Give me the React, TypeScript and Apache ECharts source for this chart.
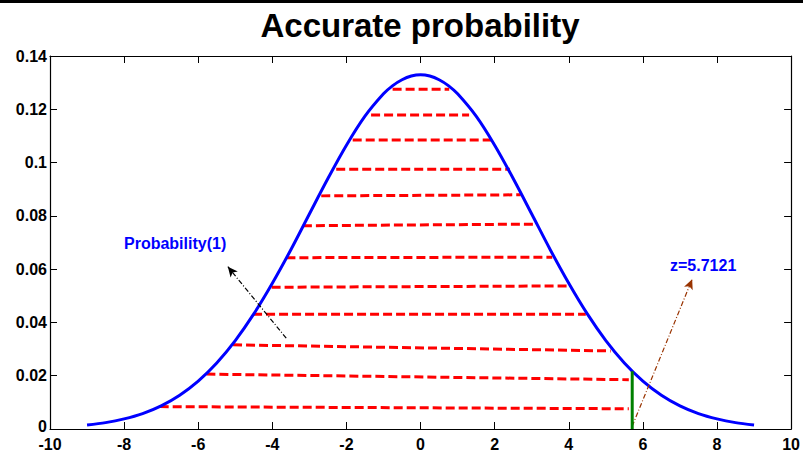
import React, { useEffect, useRef } from "react";
import * as echarts from "echarts";

// Density curve
const curveX = [-9, -8.5, -8, -7.5, -7, -6.5, -6, -5.5, -5, -4.5, -4, -3.5, -3, -2.5, -2, -1.5, -1, -0.75, -0.5, -0.25, 0, 0.25, 0.5, 0.75, 1, 1.5, 2, 2.5, 3, 3.5, 4, 4.5, 5, 5.5, 6, 6.5, 7, 7.5, 8, 8.5, 9];
const curveY = [0.0015, 0.0024, 0.0038, 0.0058, 0.0087, 0.0127, 0.018, 0.0248, 0.0332, 0.0432, 0.0547, 0.0673, 0.0807, 0.094, 0.1065, 0.1174, 0.1258, 0.1289, 0.1311, 0.1325, 0.133, 0.1325, 0.1311, 0.1289, 0.1258, 0.1174, 0.1065, 0.094, 0.0807, 0.0673, 0.0547, 0.0432, 0.0332, 0.0248, 0.018, 0.0127, 0.0087, 0.0058, 0.0038, 0.0024, 0.0015];

// Red dashed segments (start and end points)
const dashStartX = [-7.04, -5.78, -5.06, -4.52, -4.02, -3.62, -3.175, -2.68, -2.276, -1.831, -1.335, -0.754];
const dashStartY = [0.0084, 0.0206, 0.0316, 0.0431, 0.0532, 0.0643, 0.0763, 0.0875, 0.0975, 0.1085, 0.1179, 0.1275];
const dashEndX = [5.62, 5.62, 5.13, 4.46, 4.05, 3.555, 3.1, 2.704, 2.408, 1.955, 1.31, 0.773];
const dashEndY = [0.0076, 0.0185, 0.0293, 0.0431, 0.0537, 0.0645, 0.0769, 0.0879, 0.0975, 0.1085, 0.1179, 0.1275];

// z marker
const zValue = 5.7121;
const zHeight = 0.0217;

// Annotation arrows: [fromX, fromY, toX, toY]
const arrowProb = [-3.625, 0.0341, -5.2, 0.0609];
const arrowZ = [5.71, 0.001, 7.33, 0.0562];

const xTicks = { min: -10, max: 10, interval: 2 };
const yTicks = { min: 0, max: 0.14, interval: 0.02 };

const FONT = "Liberation Sans, Arial, Helvetica, sans-serif";

export default function App() {
  const ref = useRef<HTMLDivElement>(null);
  useEffect(() => {
    if (!ref.current) return;
    const chart = echarts.init(ref.current, undefined, { renderer: "svg" });

    const axisCommon = {
      type: "value" as const,
      splitLine: { show: false },
      axisLine: { show: true, onZero: false, lineStyle: { color: "#000", width: 1.2 } },
      axisTick: { show: true, inside: true, length: 7, lineStyle: { color: "#000", width: 1 } },
    };

    const labelFont = { color: "#000", fontWeight: "bold", fontSize: 16, fontFamily: FONT };

    const dashSeries = dashStartX.map((sx, i) => ({
      type: "line",
      xAxisIndex: 0,
      yAxisIndex: 0,
      data: [
        [sx, dashStartY[i]],
        [dashEndX[i], dashEndY[i]],
      ],
      symbol: "none",
      silent: true,
      lineStyle: { color: "#ff0000", width: 3, type: [9, 4] },
      z: 3,
    }));

    const arrowSeries = (a: number[], color: string) => ({
      type: "line",
      data: [],
      markLine: {
        silent: true,
        symbol: ["none", "arrow"],
        symbolSize: [7, 10],
        label: { show: false },
        lineStyle: { color, width: 1.2, type: [5, 2, 1, 2] },
        data: [[{ coord: [a[0], a[1]] }, { coord: [a[2], a[3]] }]],
      },
    });

    chart.setOption({
      animation: false,
      grid: { left: 50, right: 10, top: 56, bottom: 24, containLabel: false },
      xAxis: [
        {
          ...axisCommon,
          position: "bottom",
          min: xTicks.min,
          max: xTicks.max,
          interval: xTicks.interval,
          axisLabel: { ...labelFont, margin: 7 },
        },
        {
          ...axisCommon,
          position: "top",
          min: xTicks.min,
          max: xTicks.max,
          interval: xTicks.interval,
          axisLabel: { show: false },
        },
      ],
      yAxis: [
        {
          ...axisCommon,
          position: "left",
          min: yTicks.min,
          max: yTicks.max,
          interval: yTicks.interval,
          axisLabel: {
            ...labelFont,
            margin: 3,
            formatter: (v: number) => {
              const s = String(parseFloat(v.toFixed(4)));
              return v === 0 ? "{zero|0}" : s;
            },
            rich: { zero: { ...labelFont, padding: [0, 0, 6, 0] } },
          },
        },
        {
          ...axisCommon,
          position: "right",
          min: yTicks.min,
          max: yTicks.max,
          interval: yTicks.interval,
          axisLabel: { show: false },
        },
      ],
      series: [
        {
          type: "line",
          data: curveX.map((x, i) => [x, curveY[i]]),
          smooth: 0.3,
          symbol: "none",
          lineStyle: { color: "#0000ff", width: 3 },
          z: 4,
        },
        ...dashSeries,
        {
          type: "line",
          data: [
            [zValue, 0],
            [zValue, zHeight],
          ],
          symbol: "none",
          lineStyle: { color: "#008000", width: 3 },
          z: 5,
        },
        arrowSeries(arrowProb, "#000000"),
        arrowSeries(arrowZ, "#993300"),
      ],
      graphic: [
        { type: "rect", shape: { x: 0, y: 0, width: 803, height: 3 }, style: { fill: "#000" } },
        {
          type: "text",
          x: 420,
          y: 25,
          style: {
            text: "Accurate probability",
            font: `bold 33px ${FONT}`,
            fill: "#000",
            align: "center",
            verticalAlign: "middle",
          },
        },
        {
          type: "text",
          x: 124,
          y: 243,
          style: {
            text: "Probability(1)",
            font: `bold 16px ${FONT}`,
            fill: "#0000ff",
            align: "left",
            verticalAlign: "middle",
          },
        },
        {
          type: "text",
          x: 670,
          y: 265,
          style: {
            text: "z=5.7121",
            font: `bold 16px ${FONT}`,
            fill: "#0000ff",
            align: "left",
            verticalAlign: "middle",
          },
        },
      ],
    });
    return () => chart.dispose();
  }, []);
  return (
    <div
      ref={ref}
      style={{ position: "fixed", left: 0, top: 0, width: 803, height: 453, background: "#fff" }}
    />
  );
}
